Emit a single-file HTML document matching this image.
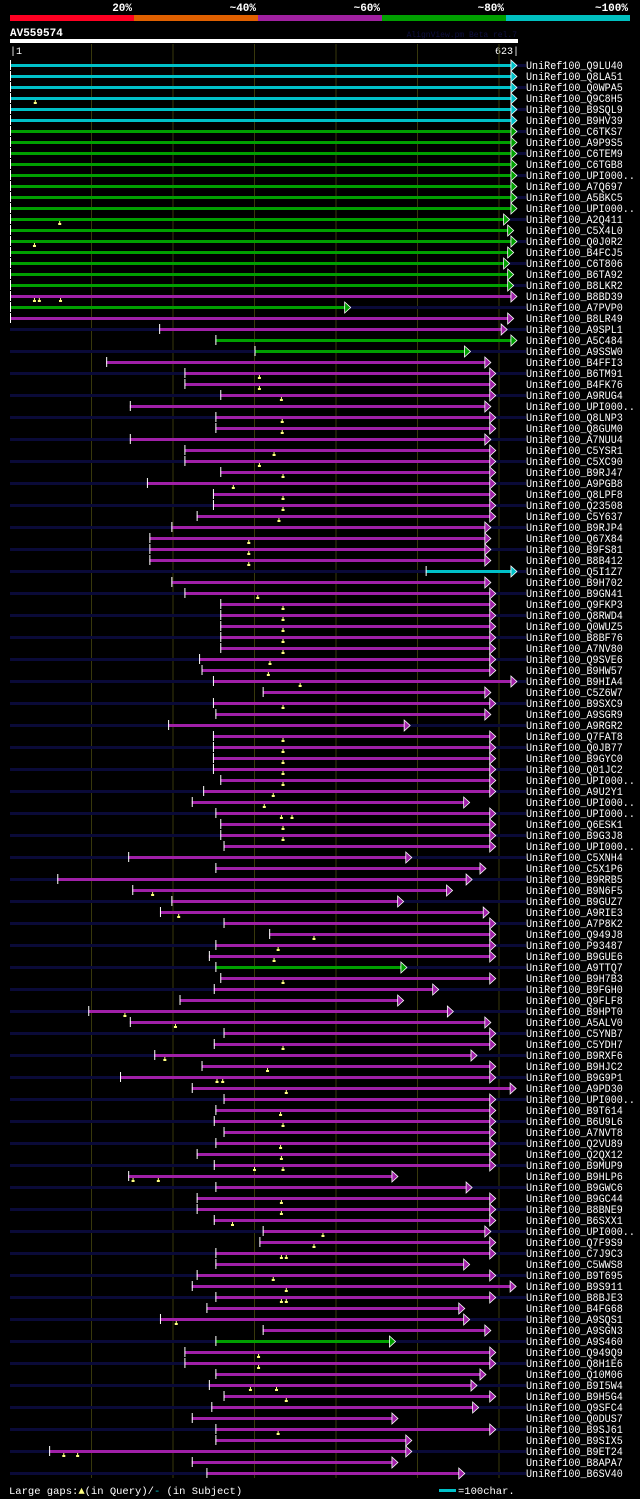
<!DOCTYPE html>
<html><head><meta charset="utf-8"><style>
html,body{margin:0;padding:0;background:#000;}
svg{display:block;}
text{font-family:"Liberation Mono",monospace;}
</style></head><body>
<svg id="chart" width="640" height="1499" viewBox="0 0 640 1499" xmlns="http://www.w3.org/2000/svg">
<rect x="0" y="0" width="640" height="1499" fill="#000"/>
<g id="head"></g>
<g id="grid"></g>
<g id="rows"></g>
<g id="foot"></g>
</svg>
<script>
const names = ["Q9LU40","Q8LA51","Q0WPA5","Q9C8H5","B9SQL9","B9HV39","C6TKS7","A9P9S5","C6TEM9","C6TGB8","UPI000..","A7Q697","A5BKC5","UPI000..","A2Q411","C5X4L0","Q0J0R2","B4FCJ5","C6T806","B6TA92","B8LKR2","B8BD39","A7PVP0","B8LR49","A9SPL1","A5C484","A9SSW0","B4FFI3","B6TM91","B4FK76","A9RUG4","UPI000..","Q8LNP3","Q8GUM0","A7NUU4","C5YSR1","C5XC90","B9RJ47","A9PGB8","Q8LPF8","Q23508","C5Y637","B9RJP4","Q67X84","B9FS81","B8B412","Q5I1Z7","B9H702","B9GN41","Q9FKP3","Q8RWD4","Q0WUZ5","B8BF76","A7NV80","Q9SVE6","B9HW57","B9HIA4","C5Z6W7","B9SXC9","A9SGR9","A9RGR2","Q7FAT8","Q0JB77","B9GYC0","Q01JC2","UPI000..","A9U2Y1","UPI000..","UPI000..","Q6ESK1","B9G3J8","UPI000..","C5XNH4","C5X1P6","B9RRB5","B9N6F5","B9GUZ7","A9RIE3","A7P8K2","Q949J8","P93487","B9GUE6","A9TTQ7","B9H7B3","B9FGH0","Q9FLF8","B9HPT0","A5ALV0","C5YNB7","C5YDH7","B9RXF6","B9HJC2","B9G9P1","A9PD30","UPI000..","B9T614","B6U9L6","A7NVT8","Q2VU89","Q2QX12","B9MUP9","B9HLP6","B9GWC6","B9GC44","B8BNE9","B6SXX1","UPI000..","Q7F9S9","C7J9C3","C5WWS8","B9T695","B9S911","B8BJE3","B4FG68","A9SQS1","A9SGN3","A9S460","Q949Q9","Q8H1E6","Q10M06","B9I5W4","B9H5G4","Q9SFC4","Q0DUS7","B9SJ61","B9SIX5","B9ET24","B8APA7","B6SV40"];
const starts = [0,0,0,0,0,0,0,0,0,0,0,0,0,0,0,0,0,0,0,0,0,0,0,0,183,252,300,118,214,214,258,147,252,252,147,214,214,258,168,249,249,229,198,171,171,171,510,198,214,258,258,258,258,258,232,235,249,310,249,252,194,249,249,249,249,258,237,223,252,258,258,262,145,252,58,150,198,184,262,318,252,244,252,258,250,208,96,147,262,250,177,235,135,223,262,252,250,262,252,229,250,145,252,229,229,250,310,306,252,252,229,223,252,241,184,310,252,214,214,252,244,262,247,223,252,252,48,223,241];
const ends = [622,622,622,622,622,622,622,622,622,622,622,622,622,622,613,618,622,618,613,618,618,622,418,618,610,622,565,590,596,596,596,590,596,596,590,596,596,596,596,596,596,596,590,590,590,590,622,590,596,596,596,596,596,596,596,596,622,590,596,590,491,596,596,596,596,596,596,564,596,596,596,596,493,584,567,543,483,588,596,596,596,596,487,596,526,483,544,590,596,596,573,596,596,621,596,596,596,596,596,596,596,476,567,596,596,596,590,596,596,564,596,621,596,558,564,590,473,596,596,584,573,596,575,476,596,493,493,476,558];
const colors = "c".repeat(6)+"g".repeat(15)+"mgmmgg"+"m".repeat(19)+"c"+"m".repeat(35)+"g"+"m".repeat(33)+"g"+"m".repeat(12);
const markers = {3:[31],14:[61],16:[30],21:[30,36,62],28:[306],29:[306],30:[333],32:[334],33:[334],35:[324],36:[306],37:[335],38:[274],39:[335],40:[335],41:[330],43:[293],44:[293],45:[293],48:[304],49:[335],50:[335],51:[335],52:[335],53:[335],54:[319],55:[317],56:[356],58:[335],61:[335],62:[335],63:[335],64:[335],65:[335],66:[323],67:[312],68:[333,346],69:[335],70:[335],75:[175],77:[207],79:[373],80:[329],81:[324],83:[335],86:[141],87:[203],89:[335],90:[190],91:[316],92:[254,261],93:[339],95:[332],96:[335],98:[332],99:[333],100:[300,335],101:[151,182],103:[333],104:[333],105:[273],106:[384],107:[373],108:[333,339],110:[323],111:[339],112:[333,339],114:[204],117:[305],118:[305],120:[295,327],121:[339],124:[329],126:[66,83]};
const tickLabels = ["20%","~40%","~60%","~80%","~100%"];
const barColors = ["#ff0022","#e06000","#a020a0","#00a000","#00c0c0"];

const NS="http://www.w3.org/2000/svg";
function mk(tag,attrs,parent){const e=document.createElementNS(NS,tag);for(const k in attrs)e.setAttribute(k,attrs[k]);parent.appendChild(e);return e;}
const xs = c => 10 + c*0.815;
const ys = i => 65 + i*11;
const COL={c:"#00c0c8",g:"#00a000",m:"#a020a8"};

const head=document.getElementById('head');
tickLabels.forEach((t,i)=>{
  const r=mk('rect',{x:10+i*124,y:15,width:124,height:6,fill:barColors[i]},head);
  
  
  const tx=mk('text',{x:134+i*124-2,y:11,'text-anchor':'end','font-size':'11','font-weight':'bold',fill:'#fff'},head);
  tx.textContent=t;
  
  
});
let e=mk('text',{x:10,y:36,'font-size':'11','font-weight':'bold',fill:'#fff'},head);e.textContent="AV559574";


e=mk('text',{x:517,y:37,'text-anchor':'end','font-size':'8',fill:'#101040'},head);e.textContent="AlignView.pm Beta rel.7";


e=mk('rect',{x:10,y:39,width:508,height:4,fill:'#fff'},head);


e=mk('text',{x:10,y:54,'font-size':'10',fill:'#fff'},head);e.textContent="|1";


e=mk('text',{x:519,y:54,'text-anchor':'end','font-size':'10',fill:'#fff'},head);e.textContent="623|";



const grid=document.getElementById('grid');
for(let c=100;c<=600;c+=100){
  const l=mk('line',{x1:xs(c),x2:xs(c),y1:44,y2:1478,stroke:'#38380c','stroke-width':1},grid);
  
  
}

const rows=document.getElementById('rows');
names.forEach((n,i)=>{
  const y=ys(i);
  const g=mk('g',{},rows);
  
  
  if(i%2===0){mk('rect',{x:10,y:y-1,width:516,height:3,fill:'#0a0a38'},g);}
  const col=COL[colors[i]];
  const x0=xs(starts[i]), x1=xs(ends[i]);
  const bar=mk('rect',{x:x0,y:y-1,width:Math.max(0,x1-6-x0),height:3,fill:col},g);
  
  
  mk('rect',{x:x0,y:y-5,width:1,height:10,fill:'#fff'},g);
  mk('polygon',{points:`${x1-6},${y-5} ${x1},${y+0.5} ${x1-6},${y+6}`,fill:col,stroke:'#fff','stroke-width':0.8},g);
  (markers[i]||[]).forEach(m=>{
    const mx=xs(m);
    mk('rect',{x:mx-0.5,y:y+2,width:1,height:2,fill:'#ffff80'},g);
    mk('rect',{x:mx-1.5,y:y+4,width:3,height:2,fill:'#ffff80'},g);
  });
  const label="UniRef100_"+n;
  const t=mk('text',{x:526,y:y+4,'font-size':'11',fill:'#fff',textLength:(label.length*6.05).toFixed(1),lengthAdjust:'spacingAndGlyphs'},g);
  t.textContent=label;
  
  
});

const foot=document.getElementById('foot');
e=mk('text',{x:9,y:1494,'font-size':'10.5',fill:'#fff'},foot);
e.innerHTML='Large gaps:<tspan fill="#ffff80">▲</tspan>(in Query)/<tspan fill="#00c0c8">-</tspan> (in Subject)';


e=mk('rect',{x:439,y:1489,width:17,height:3,fill:'#00c0c8'},foot);


e=mk('text',{x:458,y:1494,'font-size':'10.5',fill:'#fff'},foot);e.textContent="=100char.";


</script>
</body></html>
